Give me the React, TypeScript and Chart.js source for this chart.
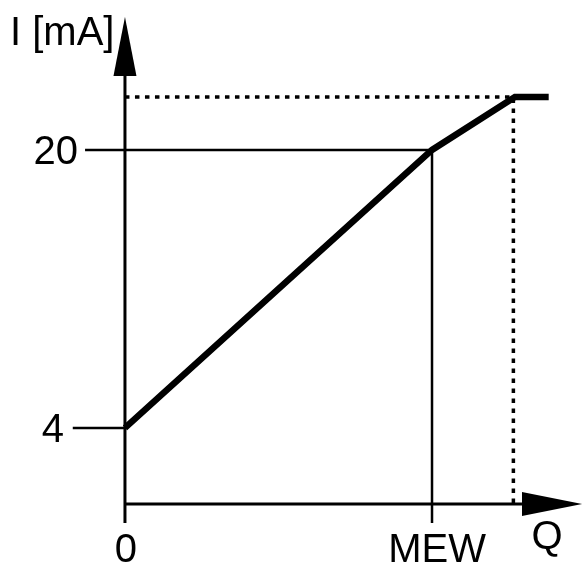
import { useEffect, useRef } from 'react';
import Chart from 'chart.js/auto';

// characteristic curve: current I [mA] over flow Q (MEW = 1)
const CURVE_Q = [0, 1, 1.27, 1.38];
const CURVE_I = [4, 20, 23.05, 23.05];

// saturation guide (dotted)
const SAT_Q = [0, 1.265, 1.265];
const SAT_I = [23.05, 23.05, -0.37];

// reference lines at 20 mA / MEW
const REF_Q = [-0.13, 1, 1];
const REF_I = [20, 20, -1.47];

// 4 mA tick
const TICK4_Q = [-0.17, 0];
const TICK4_I = [4, 4];

// axes (Q axis sits slightly below I = 0)
const AXIS_I = -0.37;
const Y_AXIS_FROM = -1.47;
const Y_AXIS_TO = 24.26;
const Y_ARROW_TIP = 27.65;
const X_AXIS_TO = 1.293;
const X_ARROW_TIP = 1.489;

const Y_TICK_VALUES = [20, 4];
const Y_TICK_LABELS = ['20', '4'];
const X_TICK_VALUES = [0, 1];
const X_TICK_LABELS = ['0', 'MEW'];

const FONT = '40px "Liberation Sans", Arial, sans-serif';

const pts = (xs: number[], ys: number[]) => xs.map((x, i) => ({ x, y: ys[i] }));

const overlay = {
  id: 'overlay',
  afterDatasetsDraw(chart: any) {
    const { ctx, scales } = chart;
    const sx = scales.x;
    const sy = scales.y;
    const px = (v: number) => sx.getPixelForValue(v);
    const py = (v: number) => sy.getPixelForValue(v);
    ctx.save();
    ctx.fillStyle = '#000';

    // arrow heads
    const x0 = px(0);
    ctx.beginPath();
    ctx.moveTo(x0, py(Y_ARROW_TIP));
    ctx.lineTo(x0 + 11.5, py(Y_AXIS_TO));
    ctx.lineTo(x0 - 11.5, py(Y_AXIS_TO));
    ctx.closePath();
    ctx.fill();

    const ya = py(AXIS_I);
    ctx.beginPath();
    ctx.moveTo(px(X_ARROW_TIP), ya);
    ctx.lineTo(px(X_AXIS_TO), ya - 12);
    ctx.lineTo(px(X_AXIS_TO), ya + 12);
    ctx.closePath();
    ctx.fill();

    ctx.font = FONT;
    ctx.textBaseline = 'alphabetic';

    // y tick labels
    ctx.textAlign = 'right';
    Y_TICK_LABELS.forEach((t, i) => {
      const right = t === '4' ? 64 : 78;
      ctx.fillText(t, right, py(Y_TICK_VALUES[i]) + 14);
    });

    // x tick labels
    ctx.textAlign = 'center';
    X_TICK_LABELS.forEach((t, i) => {
      ctx.fillText(t, px(X_TICK_VALUES[i]) + (t === 'MEW' ? 5 : 1), 562);
    });
    ctx.fillText('Q', px(X_ARROW_TIP) - 35, 549);

    // axis title
    ctx.textAlign = 'left';
    ctx.fillText('I [mA]', 10, 45);
    ctx.restore();
  }
};

export default function App() {
  const ref = useRef<HTMLCanvasElement | null>(null);

  useEffect(() => {
    if (!ref.current) return;
    const line = (data: any[], width: number, dash: number[] = []) => ({
      data,
      borderColor: '#000',
      borderWidth: width,
      borderDash: dash,
      borderCapStyle: 'butt',
      borderJoinStyle: 'miter',
      pointRadius: 0,
      tension: 0,
      fill: false
    });
    const chart = new Chart(ref.current, {
      type: 'line',
      data: {
        datasets: [
          line(pts(SAT_Q, SAT_I), 3.5, [4.5, 5.5]),
          line(pts(REF_Q, REF_I), 2.5),
          line(pts(TICK4_Q, TICK4_I), 2.5),
          line(pts([0, 0], [Y_AXIS_FROM, Y_AXIS_TO]), 3),
          line(pts([0, X_AXIS_TO], [AXIS_I, AXIS_I]), 3),
          line(pts(CURVE_Q, CURVE_I), 6.5)
        ] as any
      },
      options: {
        animation: false,
        responsive: true,
        maintainAspectRatio: false,
        layout: { padding: 0 },
        plugins: { legend: { display: false }, tooltip: { enabled: false } },
        scales: {
          x: { type: 'linear', min: -0.407, max: 1.495, display: false },
          y: { type: 'linear', min: -4.06, max: 28.63, display: false }
        }
      },
      plugins: [overlay]
    });
    return () => chart.destroy();
  }, []);

  return (
    <div style={{ position: 'fixed', left: 0, top: 0, width: 584, height: 568, background: '#fff' }}>
      <canvas ref={ref}></canvas>
    </div>
  );
}
